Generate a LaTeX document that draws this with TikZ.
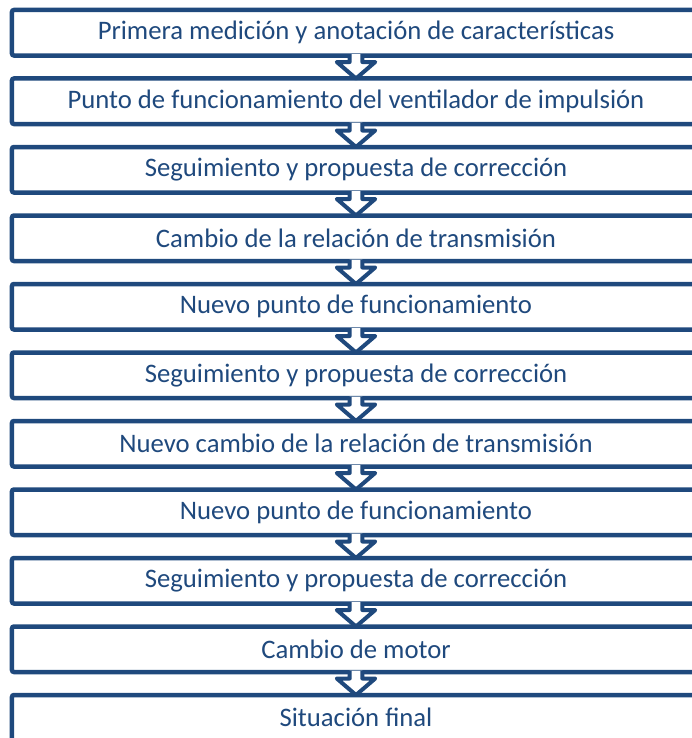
\documentclass[tikz,border=0pt]{standalone}
\usepackage{fontspec}
\setmainfont{Carlito}
\usepackage{xcolor}
\usepackage{tikz}
\usetikzlibrary{
  positioning,
  calc
}
\definecolor{azul}{HTML}{1F497D}

\begin{document}
\begin{tikzpicture}[x=1bp,y=-1bp,
  caja/.style={draw=azul,line width=4.5bp,rounded corners=2bp,fill=white,
    minimum width=688bp,minimum height=45.5bp,inner sep=0pt,outer sep=0pt,
    text=azul,font=\fontsize{26.8}{30}\selectfont},
  flecha/.style={draw=azul,line width=4bp,fill=white,line join=round}]
  \useasboundingbox (0,0) rectangle (692,738);
  \clip (0,0) rectangle (692,738);
  % cajas
  \foreach \t [count=\i] in {
    Primera medición y anotación de características,
    Punto de funcionamiento del ventilador de impulsión,
    Seguimiento y propuesta de corrección,
    Cambio de la relación de transmisión,
    Nuevo punto de funcionamiento,
    Seguimiento y propuesta de corrección,
    Nuevo cambio de la relación de transmisión,
    Nuevo punto de funcionamiento,
    Seguimiento y propuesta de corrección,
    Cambio de motor,
    Situación final}
    \node[caja] (c\i) at (356,{32.75+68.5*(\i-1)}) {\t};
  % flechas
  \foreach \i [count=\j from 2] in {1,...,10}
    \filldraw[flecha] ($(c\i.south)+(-6.3,-1.5)$) -- ($(c\i.south)+(-6.3,6.5)$)
      -- ($(c\i.south)+(-19.2,6.5)$) -- (c\j.north)
      -- ($(c\i.south)+(19.2,6.5)$) -- ($(c\i.south)+(6.3,6.5)$)
      -- ($(c\i.south)+(6.3,-1.5)$);
\end{tikzpicture}
\end{document}
